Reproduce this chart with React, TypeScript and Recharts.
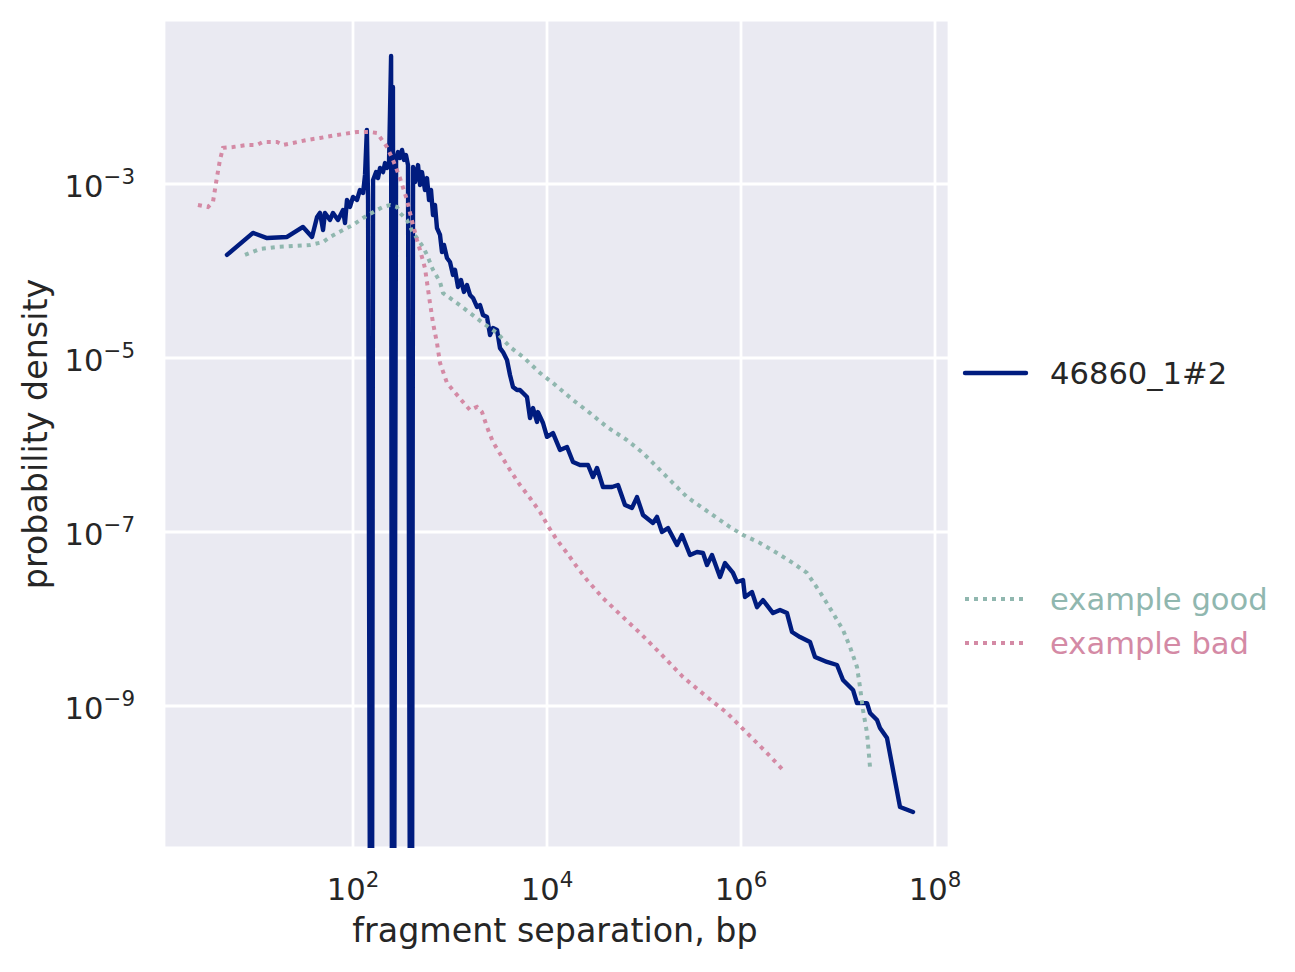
import { CartesianGrid, Line, LineChart, XAxis, YAxis } from "recharts";

const FONT = "'DejaVu Sans', sans-serif";
const TEXT = "#262626";
const BLUE = "#001c7f";
const GREEN = "#90b7af";
const PINK = "#d48aa5";

// [fragment separation (bp), probability density]
const sampleCurve: [number, number][] = [
  [5.02, 1.53e-4], [9.31, 2.74e-4], [13.0, 2.39e-4], [20.9, 2.46e-4], [30.5, 3.21e-4],
  [37.8, 2.46e-4], [42.6, 4.18e-4], [45.7, 4.65e-4], [49.1, 2.96e-4], [51.4, 4.65e-4],
  [57.9, 3.86e-4], [62.2, 4.65e-4], [70.0, 3.86e-4], [78.9, 5.03e-4], [82.7, 3.56e-4],
  [86.7, 6.55e-4], [93.1, 5.44e-4], [100, 7.09e-4], [110, 6.55e-4], [118, 8.53e-4],
  [127, 7.88e-4], [133, 1.27e-3], [139, 4.18e-3], [143, 6.55e-4], [150, 1e-12],
  [157, 1e-12], [161, 1.11e-3], [173, 1.37e-3], [181, 1.17e-3], [190, 1.53e-3],
  [204, 1.37e-3], [214, 1.74e-3], [224, 1.53e-3], [235, 1.65e-3], [247, 2.96e-2],
  [252, 1e-12], [258, 1.3e-2], [265, 1e-12], [278, 1.89e-3], [291, 2.33e-3],
  [305, 1.99e-3], [320, 2.46e-3], [336, 1.89e-3], [352, 2.15e-3], [369, 1.65e-3],
  [387, 1e-12], [406, 1e-12], [416, 1.57e-3], [436, 1.05e-3], [468, 1.65e-3],
  [491, 9.74e-4], [514, 1.37e-3], [552, 8.53e-4], [579, 1.17e-3], [608, 6.55e-4],
  [637, 8.53e-4], [668, 4.4e-4], [700, 5.74e-4], [734, 3.12e-4], [789, 2.6e-4],
  [827, 1.65e-4], [867, 1.99e-4], [931, 1.41e-4], [1000, 1.27e-4], [1074, 9.0e-5],
  [1126, 1.03e-4], [1209, 6.55e-5], [1298, 7.88e-5], [1393, 5.74e-5], [1497, 6.9e-5],
  [1608, 5.3e-5], [1726, 4.9e-5], [1898, 3.86e-5], [2039, 4.06e-5],
  [2189, 3.12e-5], [2407, 2.96e-5], [2585, 1.84e-5], [2775, 2.21e-5], [3052, 2.1e-5],
  [3278, 1.3e-5], [3519, 1.17e-5], [3869, 9.48e-6], [4155, 6.38e-6], [4462, 4.65e-6],
  [4907, 4.28e-6], [5268, 4.28e-6], [5656, 3.96e-6], [6220, 3.56e-6], [6679, 2.04e-6],
  [7173, 2.66e-6], [7887, 1.84e-6], [8076, 2.39e-6], [9096, 1.79e-6], [10000, 1.24e-6],
  [11530, 1.37e-6], [13610, 8.77e-7], [16080, 9.48e-7], [18530, 6.38e-7], [21890, 5.89e-7],
  [26470, 5.89e-7], [29800, 4.28e-7], [32780, 5.44e-7], [37780, 3.29e-7], [46780, 3.29e-7],
  [53950, 3.47e-7], [63700, 2.04e-7], [75210, 1.89e-7], [84700, 2.52e-7], [97650, 1.57e-7],
  [1.238e5, 1.27e-7], [1.361e5, 1.49e-7], [1.533e5, 1.0e-7], [1.768e5, 1.11e-7],
  [2.189e5, 7.09e-8], [2.465e5, 9.24e-8], [2.98e5, 5.44e-8], [3.519e5, 5.89e-8],
  [4.057e5, 5.74e-8], [4.462e5, 4.18e-8], [5.023e5, 5.44e-8], [6.074e5, 3.04e-8],
  [6.841e5, 4.4e-8], [8.271e5, 3.38e-8], [9.096e5, 2.66e-8], [1.049e6, 2.81e-8],
  [1.099e6, 1.79e-8], [1.298e6, 2.04e-8], [1.462e6, 1.37e-8], [1.686e6, 1.65e-8],
  [2.138e6, 1.17e-8], [2.524e6, 1.27e-8], [2.98e6, 1.17e-8], [3.356e6, 7.09e-9],
  [4.057e6, 6.21e-9], [5.143e6, 5.44e-9], [5.793e6, 3.66e-9], [7.7e6, 3.21e-9],
  [9.765e6, 2.96e-9], [1.126e7, 1.99e-9], [1.428e7, 1.53e-9], [1.57e7, 1.08e-9],
  [1.991e7, 1.08e-9], [2.138e7, 8.32e-10], [2.524e7, 6.9e-10], [2.71e7, 5.58e-10],
  [3.201e7, 4.28e-10], [4.358e7, 6.9e-11], [5.933e7, 6.05e-11],
];

const goodCurve: [number, number][] = [
  [7.7, 1.53e-4], [11.0, 1.79e-4], [16.5, 1.89e-4], [24.1, 1.94e-4], [36.0, 1.99e-4],
  [49.1, 2.15e-4], [57.9, 2.46e-4], [78.9, 2.96e-4], [100, 3.38e-4], [127, 4.06e-4],
  [150, 4.52e-4], [177, 5.03e-4], [204, 5.44e-4], [241, 5.74e-4], [284, 5.44e-4],
  [305, 4.65e-4], [360, 3.86e-4], [416, 2.74e-4], [457, 2.39e-4], [527, 1.89e-4],
  [579, 1.53e-4], [668, 1.03e-4], [789, 7.48e-5], [847, 5.58e-5], [1181, 4.28e-5],
  [1608, 3.29e-5], [2189, 2.52e-5], [3052, 1.94e-5], [4155, 1.34e-5], [5656, 1.03e-5],
  [8470, 6.73e-6], [11530, 5.16e-6], [18530, 3.29e-6], [27760, 2.33e-6], [41550, 1.61e-6],
  [66790, 1.14e-6], [97650, 8.09e-7], [1.153e5, 6.73e-7], [1.726e5, 4.28e-7],
  [2.776e5, 2.52e-7], [4.79e5, 1.65e-7], [7.7e5, 1.14e-7], [1.049e6, 9.24e-8],
  [1.57e6, 7.48e-8], [2.35e6, 5.74e-8], [3.437e6, 4.4e-8], [4.79e6, 3.38e-8],
  [6.52e6, 2.04e-8], [8.88e6, 1.17e-8], [1.126e7, 7.48e-9], [1.33e7, 4.77e-9],
  [1.57e7, 2.81e-9], [1.686e7, 1.65e-9], [1.81e7, 8.99e-10], [1.991e7, 4.9e-10],
  [2.138e7, 1.99e-10],
];

const badCurve: [number, number][] = [
  [2.52, 5.74e-4], [3.2, 5.44e-4], [3.6, 6.21e-4], [3.96, 1.2e-3], [4.25, 1.89e-3],
  [4.57, 2.6e-3], [5.79, 2.66e-3], [8.08, 2.81e-3], [10.2, 2.81e-3], [11.8, 3.04e-3],
  [16.5, 3.04e-3], [19.0, 2.81e-3], [24.1, 2.96e-3], [33.6, 3.21e-3], [45.7, 3.38e-3],
  [68.4, 3.66e-3], [110, 3.96e-3], [150, 3.96e-3], [177, 3.86e-3], [224, 2.66e-3],
  [258, 1.89e-3], [305, 1.17e-3], [360, 6.55e-4], [387, 4.65e-4], [416, 3.38e-4],
  [457, 2.27e-4], [491, 1.74e-4], [552, 1.08e-4], [622, 4.28e-5], [668, 2.52e-5],
  [734, 1.49e-5], [789, 8.77e-6], [931, 5.16e-6], [1361, 3.12e-6], [1608, 2.52e-6],
  [1898, 2.74e-6], [2138, 2.39e-6], [2407, 1.61e-6], [2775, 1.08e-6], [3437, 7.27e-7],
  [4155, 5.16e-7], [5268, 3.47e-7], [6679, 2.46e-7], [8470, 1.7e-7], [10240, 1.17e-7],
  [12680, 8.09e-8], [16080, 5.74e-8], [20390, 3.96e-8], [25850, 2.81e-8], [37780, 1.74e-8],
  [60760, 1.05e-8], [90960, 6.9e-9], [1.462e5, 4.06e-9], [2.524e5, 2.15e-9],
  [4.462e5, 1.27e-9], [7.173e5, 8.32e-10], [1.153e6, 4.9e-10], [1.854e6, 2.88e-10],
  [2.842e6, 1.74e-10],
];

const xTicks = [1e2, 1e4, 1e6, 1e8];
const yTicks = [1e-9, 1e-7, 1e-5, 1e-3];

const toPoints = (rows: [number, number][]) => rows.map(([x, y]) => ({ x, y }));

function PowerLabel({ value, x, y, anchor }: { value: number; x: number; y: number; anchor: "middle" | "end" }) {
  const exp = Math.round(Math.log10(value));
  const sup = exp < 0 ? `\u2212${Math.abs(exp)}` : String(exp);
  return (
    <text x={x} y={y} textAnchor={anchor} fill={TEXT} fontFamily={FONT} fontSize={30.6}>
      <tspan>10</tspan>
      <tspan dy={-13} fontSize={21.4}>
        {sup}
      </tspan>
    </text>
  );
}

function XTick(props: any) {
  return <PowerLabel value={props.payload.value} x={props.x} y={900} anchor="middle" />;
}

function YTick(props: any) {
  return <PowerLabel value={props.payload.value} x={135} y={props.y + 13} anchor="end" />;
}

export default function App() {
  return (
    <div style={{ position: "absolute", left: 0, top: 0, width: 1295, height: 972, background: "#fff" }}>
      <LineChart width={1295} height={972} margin={{ top: 20, right: 346, bottom: 0, left: 0 }}>
        <CartesianGrid fill="#eaeaf2" stroke="#ffffff" strokeWidth={2.8} />
        <XAxis
          dataKey="x"
          type="number"
          scale="log"
          domain={[1.126, 1.394e8]}
          ticks={xTicks}
          interval={0}
          allowDataOverflow
          axisLine={false}
          tickLine={false}
          height={124}
          tick={<XTick />}
        />
        <YAxis
          type="number"
          scale="log"
          domain={[2.334e-11, 7.67e-2]}
          ticks={yTicks}
          interval={0}
          allowDataOverflow
          axisLine={false}
          tickLine={false}
          width={164}
          tick={<YTick />}
        />
        <Line
          data={toPoints(sampleCurve)}
          dataKey="y"
          name="46860_1#2"
          type="linear"
          stroke={BLUE}
          strokeWidth={4.4}
          strokeLinejoin="round"
          strokeLinecap="round"
          dot={false}
          activeDot={false}
          isAnimationActive={false}
        />
        <Line
          data={toPoints(goodCurve)}
          dataKey="y"
          name="example good"
          type="linear"
          stroke={GREEN}
          strokeWidth={4}
          strokeDasharray="4 5"
          dot={false}
          activeDot={false}
          isAnimationActive={false}
        />
        <Line
          data={toPoints(badCurve)}
          dataKey="y"
          name="example bad"
          type="linear"
          stroke={PINK}
          strokeWidth={4}
          strokeDasharray="4 5"
          dot={false}
          activeDot={false}
          isAnimationActive={false}
        />
      </LineChart>
      <svg width={1295} height={972} style={{ position: "absolute", left: 0, top: 0, pointerEvents: "none" }}>
        <text x={555} y={942} textAnchor="middle" fill={TEXT} fontFamily={FONT} fontSize={33.3}>
          fragment separation, bp
        </text>
        <text
          x={47}
          y={434}
          textAnchor="middle"
          transform="rotate(-90 47 434)"
          fill={TEXT}
          fontFamily={FONT}
          fontSize={33.3}
        >
          probability density
        </text>
        <line x1={965} x2={1026} y1={373} y2={373} stroke={BLUE} strokeWidth={4.4} strokeLinecap="round" />
        <text x={1050} y={384} fill={TEXT} fontFamily={FONT} fontSize={30.6}>
          46860_1#2
        </text>
        <line x1={965} x2={1028} y1={599} y2={599} stroke={GREEN} strokeWidth={4} strokeDasharray="4 5" />
        <text x={1050} y={610} fill={GREEN} fontFamily={FONT} fontSize={30.6}>
          example good
        </text>
        <line x1={965} x2={1028} y1={643} y2={643} stroke={PINK} strokeWidth={4} strokeDasharray="4 5" />
        <text x={1050} y={654} fill={PINK} fontFamily={FONT} fontSize={30.6}>
          example bad
        </text>
      </svg>
    </div>
  );
}
